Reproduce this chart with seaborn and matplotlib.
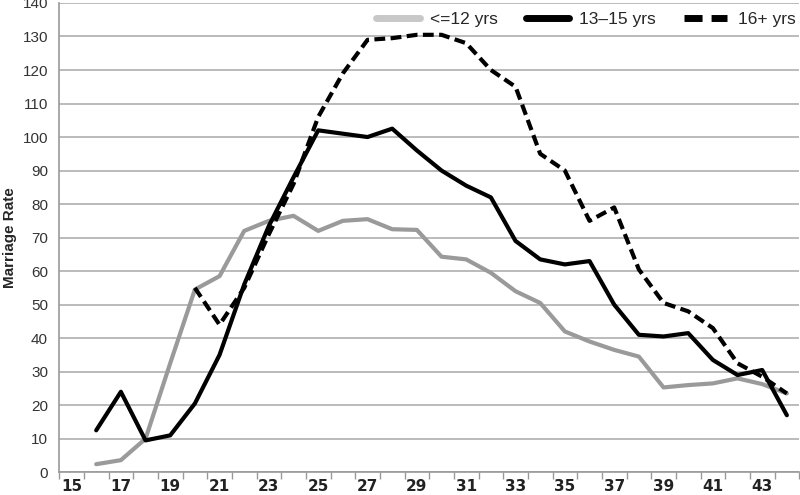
import numpy as np
import pandas as pd
import matplotlib
matplotlib.use("Agg")
import matplotlib.pyplot as plt
import seaborn as sns

ages_all = list(range(16, 45))
ages_16plus = list(range(20, 45))
le12 = [2.4, 3.6, 10, 32.5, 54.5, 58.5, 72, 75, 76.5, 72, 75, 75.5, 72.5, 72.3,
        64.3, 63.5, 59.5, 54, 50.5, 42, 39, 36.5, 34.5, 25.3, 26, 26.5, 28, 26.3, 23.5]
y13_15 = [12.5, 24, 9.5, 11, 20.5, 35, 56, 73.5, 88, 102, 101, 100, 102.5, 96, 90,
          85.5, 82, 69, 63.5, 62, 63, 50, 41, 40.5, 41.5, 33.5, 29, 30.5, 17]
y16p = [55, 44, 55, 71, 86, 106, 119, 129, 129.5, 130.5, 130.5, 128, 120, 115, 95,
        90, 75, 79, 60.5, 50.5, 48, 43, 32.5, 28.5, 23.5]
series_names = ["<=12 yrs", "13\u201315 yrs", "16+ yrs"]
x_labels = [str(v) for v in range(15, 44, 2)]
y_ticks = list(range(0, 141, 10))

df = pd.concat([
    pd.DataFrame({"age": ages_all, "rate": le12, "group": series_names[0]}),
    pd.DataFrame({"age": ages_all, "rate": y13_15, "group": series_names[1]}),
    pd.DataFrame({"age": ages_16plus, "rate": y16p, "group": series_names[2]}),
])

sns.set_theme(style="white")
plt.rcParams["font.family"] = ["Liberation Sans", "DejaVu Sans"]

fig = plt.figure(figsize=(8, 4.95), dpi=100)
ax = fig.add_axes([0.074, 0.046, 0.925, 0.948])

palette = {series_names[0]: "#9a9a9a", series_names[1]: "#000000", series_names[2]: "#000000"}
dashes = {series_names[0]: "", series_names[1]: "", series_names[2]: (2.6, 1.3)}
sns.lineplot(data=df, x="age", y="rate", hue="group", style="group",
             palette=palette, dashes=dashes, linewidth=3.0, ax=ax,
             hue_order=series_names, style_order=series_names)

ax.set_xlim(14.5, 44.5)
ax.set_ylim(0, 140)
ax.set_yticks(y_ticks)
ax.set_yticklabels([str(v) for v in y_ticks], fontsize=11, color="#333333")
ax.set_xticks(list(range(15, 44, 2)))
ax.set_xticklabels(x_labels, fontsize=11, fontweight="bold",
                   family=["Liberation Sans Narrow", "DejaVu Sans"], color="#222222")
ax.set_xticks(np.arange(14.5, 45, 1.0), minor=True)
ax.tick_params(axis="x", which="major", length=0, pad=5)
ax.tick_params(axis="x", which="minor", length=5, width=1, color="#999999", direction="out", bottom=True)
ax.tick_params(axis="y", length=0, pad=8)

ax.yaxis.grid(True, color="#b5b5b5", linewidth=1.3)
ax.xaxis.grid(False)
ax.set_axisbelow(True)
for s in ["top", "right"]:
    ax.spines[s].set_visible(False)
for s in ["left", "bottom"]:
    ax.spines[s].set_color("#999999")
    ax.spines[s].set_linewidth(1.2)

ax.set_xlabel("")
ax.set_ylabel("Marriage Rate", fontsize=11, fontweight="bold", labelpad=4)

leg = ax.legend(loc="center right", bbox_to_anchor=(0.995, 0.964), ncol=3, frameon=False,
                fontsize=12.5, handlelength=2.5, columnspacing=1.6, handletextpad=0.6,
                borderaxespad=0, borderpad=0)
for h in leg.get_lines():
    h.set_linewidth(5)
leg.get_lines()[0].set_color("#c8c8c8")

fig.savefig("out.png", dpi=100)
